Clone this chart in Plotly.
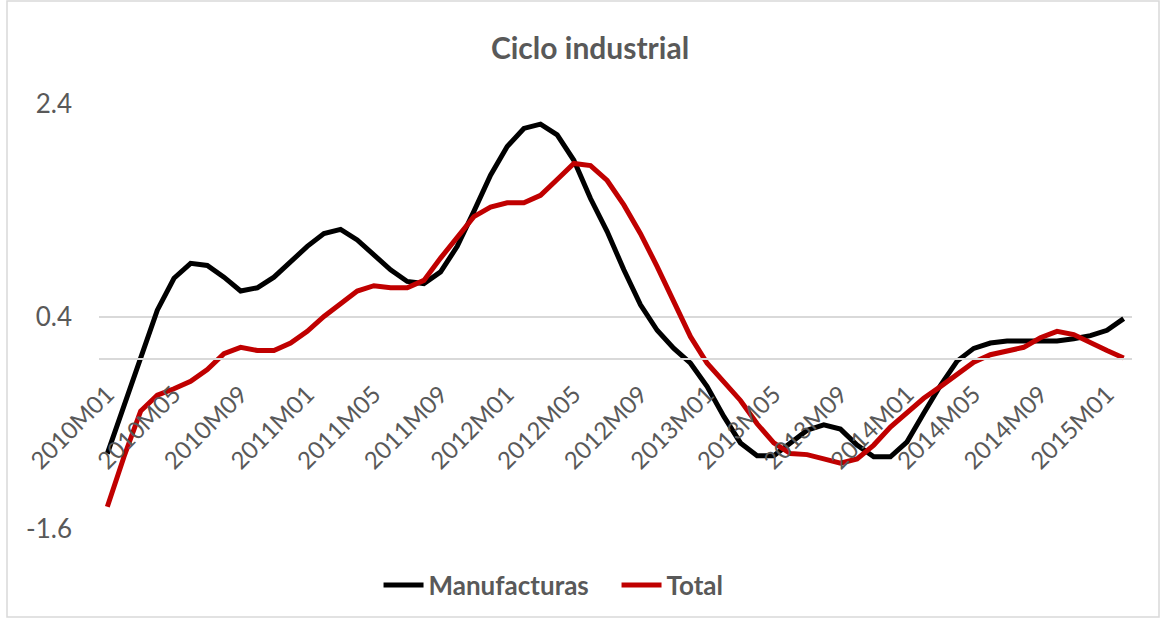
import plotly.graph_objects as go

years = [2010, 2011, 2012, 2013, 2014, 2015]
months = ["01", "02", "03", "04", "05", "06", "07", "08", "09", "10", "11", "12"]
periods = [f"{y}M{m}" for y in years for m in months][:62]  # 2010M01 .. 2015M02

manufacturas = [
    -0.89, -0.43, 0.02, 0.46, 0.76, 0.90, 0.88, 0.77, 0.64, 0.67,
    0.77, 0.92, 1.06, 1.18, 1.22, 1.12, 0.98, 0.84, 0.73, 0.71,
    0.82, 1.06, 1.39, 1.73, 2.00, 2.17, 2.21, 2.11, 1.87, 1.51,
    1.20, 0.84, 0.51, 0.27, 0.10, -0.04, -0.26, -0.54, -0.79, -0.91,
    -0.91, -0.79, -0.67, -0.62, -0.66, -0.81, -0.92, -0.92, -0.78, -0.51,
    -0.25, -0.02, 0.10, 0.15, 0.17, 0.17, 0.17, 0.17, 0.19, 0.22,
    0.27, 0.38,
]
total = [
    -1.39, -0.92, -0.49, -0.34, -0.28, -0.21, -0.10, 0.05, 0.11, 0.08,
    0.08, 0.15, 0.26, 0.40, 0.52, 0.64, 0.69, 0.67, 0.67, 0.74,
    0.95, 1.14, 1.34, 1.43, 1.47, 1.47, 1.54, 1.69, 1.84, 1.82,
    1.68, 1.45, 1.18, 0.87, 0.54, 0.21, -0.04, -0.21, -0.39, -0.61,
    -0.79, -0.89, -0.90, -0.94, -0.98, -0.94, -0.81, -0.64, -0.50, -0.37,
    -0.26, -0.15, -0.03, 0.04, 0.07, 0.11, 0.20, 0.26, 0.23, 0.15,
    0.08, 0.01,
]
y_ticks = [2.4, 0.4, -1.6]
x_tick_labels = periods[::4]

FONT = "Lato, 'Open Sans', sans-serif"
GRAY = "#595959"

fig = go.Figure()
fig.add_trace(go.Scatter(x=periods, y=manufacturas, name="Manufacturas", mode="lines",
                         line=dict(color="#000000", width=5)))
fig.add_trace(go.Scatter(x=periods, y=total, name="Total", mode="lines",
                         line=dict(color="#C00000", width=5)))

fig.update_layout(
    width=1165, height=621,
    margin=dict(l=99, r=33, t=104, b=92),
    paper_bgcolor="white", plot_bgcolor="white",
    font=dict(family=FONT, color=GRAY),
    title=dict(text="<b>Ciclo industrial</b>", x=590/1165, xanchor="center",
               y=1 - 48/621, yanchor="middle", font=dict(size=30, color=GRAY, family=FONT)),
    showlegend=True,
    legend=dict(orientation="h", x=0.501, xanchor="center", y=-0.132, yanchor="middle",
                font=dict(size=26, color=GRAY, family=FONT, weight="bold"),
                itemwidth=40, traceorder="normal", entrywidth=183, entrywidthmode="pixels"),
    shapes=[dict(type="rect", xref="paper", yref="paper",
                 x0=-92/1033, x1=(1159-99)/1033, y0=-88/425, y1=1 + 103/425,
                 line=dict(color="#d9d9d9", width=1.5), fillcolor="rgba(0,0,0,0)", layer="below")],
)

fig.update_xaxes(
    type="category", range=[-0.5, len(periods) - 0.5],
    anchor="free", position=1.6/4.0,
    showline=True, linecolor="#d9d9d9", linewidth=1.5,
    showgrid=False, zeroline=False,
    tickmode="array", tickvals=x_tick_labels, ticktext=x_tick_labels,
    tickangle=-45, ticks="", ticklabelstandoff=11,
    tickfont=dict(size=24, color=GRAY, family=FONT),
)
fig.update_yaxes(
    range=[-1.6, 2.4], tickmode="array", tickvals=y_ticks,
    ticktext=[f"{v:.1f}" for v in y_ticks],
    showgrid=True, gridcolor="#d9d9d9", gridwidth=1.5,
    zeroline=False, showline=False, ticks="", ticklabelstandoff=26,
    tickfont=dict(size=26, color=GRAY, family=FONT),
)

fig.write_html("out.html")
